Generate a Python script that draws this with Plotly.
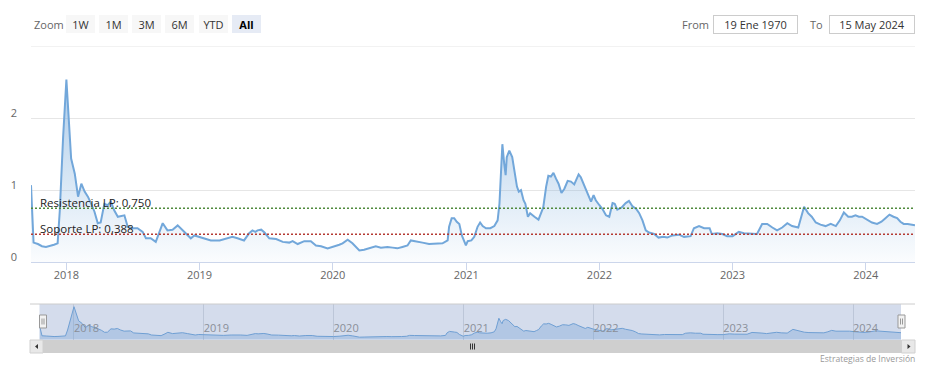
import plotly.graph_objects as go

# ---------------- data ----------------
dates = [
    "2017-09-26", "2017-10-03", "2017-10-15", "2017-10-26", "2017-11-06", "2017-11-17", "2017-11-28",
    "2017-12-08", "2017-12-14", "2017-12-23", "2018-01-01",
    "2018-01-14", "2018-01-24", "2018-02-02", "2018-02-11", "2018-02-20", "2018-03-01", "2018-03-10",
    "2018-03-19", "2018-03-28", "2018-04-05", "2018-04-15", "2018-04-24", "2018-05-03", "2018-05-12",
    "2018-05-22", "2018-05-30", "2018-06-09", "2018-06-18", "2018-07-02", "2018-07-15", "2018-07-29",
    "2018-08-07", "2018-08-20", "2018-09-03", "2018-09-14", "2018-09-22", "2018-10-05", "2018-10-19",
    "2018-11-02", "2018-11-16", "2018-11-29", "2018-12-08", "2018-12-18",
    "2019-01-01", "2019-01-14", "2019-02-01", "2019-02-25", "2019-03-19", "2019-04-01", "2019-04-15",
    "2019-05-03", "2019-05-17", "2019-05-26", "2019-06-03", "2019-06-09", "2019-06-19", "2019-06-28",
    "2019-07-11", "2019-07-30", "2019-08-17", "2019-09-04", "2019-09-13", "2019-09-27", "2019-10-15",
    "2019-11-02", "2019-11-16", "2019-11-30", "2019-12-18",
    "2020-01-01", "2020-01-19", "2020-01-28", "2020-02-11", "2020-02-24", "2020-03-14", "2020-03-27",
    "2020-04-10", "2020-04-28", "2020-05-12", "2020-05-30", "2020-06-13", "2020-06-26", "2020-07-10",
    "2020-07-24", "2020-08-02", "2020-08-16", "2020-09-03", "2020-09-21", "2020-10-10", "2020-10-28",
    "2020-11-11", "2020-11-15", "2020-11-22", "2020-11-29", "2020-12-06", "2020-12-13", "2020-12-20",
    "2020-12-31",
    "2021-01-05", "2021-01-15", "2021-01-23", "2021-02-01", "2021-02-08", "2021-02-15", "2021-02-24",
    "2021-03-08", "2021-03-19", "2021-03-28", "2021-04-02", "2021-04-07", "2021-04-10", "2021-04-15",
    "2021-04-19", "2021-04-22", "2021-04-29", "2021-05-07", "2021-05-13", "2021-05-20", "2021-05-25",
    "2021-05-31", "2021-06-07", "2021-06-12", "2021-06-19", "2021-06-25", "2021-07-07", "2021-07-18",
    "2021-07-25", "2021-07-31", "2021-08-08", "2021-08-14", "2021-08-21", "2021-08-28", "2021-09-04",
    "2021-09-11", "2021-09-19", "2021-09-27", "2021-10-06", "2021-10-15", "2021-10-24", "2021-11-05",
    "2021-11-11", "2021-11-21", "2021-11-30", "2021-12-09", "2021-12-16", "2021-12-22",
    "2022-01-01", "2022-01-09", "2022-01-19", "2022-01-28", "2022-02-06", "2022-02-12", "2022-02-19",
    "2022-03-03", "2022-03-14", "2022-03-23", "2022-04-01", "2022-04-12", "2022-04-20", "2022-04-29",
    "2022-05-08", "2022-05-17", "2022-05-31", "2022-06-12", "2022-06-25", "2022-07-06", "2022-07-20",
    "2022-08-07", "2022-08-21", "2022-09-08", "2022-09-17", "2022-10-01", "2022-10-15", "2022-10-30",
    "2022-11-05", "2022-11-20", "2022-12-04", "2022-12-17",
    "2023-01-01", "2023-01-18", "2023-02-01", "2023-02-19", "2023-03-09", "2023-03-23", "2023-04-06",
    "2023-04-20", "2023-05-03", "2023-05-17", "2023-05-31", "2023-06-13", "2023-06-30", "2023-07-16",
    "2023-07-27", "2023-08-06", "2023-08-17", "2023-08-30", "2023-09-13", "2023-09-27", "2023-10-11",
    "2023-10-22", "2023-11-02", "2023-11-14", "2023-11-24", "2023-12-04", "2023-12-13", "2023-12-22",
    "2024-01-04", "2024-01-18", "2024-02-01", "2024-02-13", "2024-02-24", "2024-03-06", "2024-03-17",
    "2024-03-27", "2024-04-05", "2024-04-14", "2024-04-25", "2024-05-09", "2024-05-15",
]
values = [
    1.07, 0.27, 0.25, 0.22, 0.21, 0.22, 0.24,
    0.26, 0.72, 1.74, 2.54,
    1.44, 1.23, 0.91, 1.09, 0.98, 0.91, 0.81,
    0.70, 0.54, 0.55, 0.81, 0.79, 0.84, 0.72,
    0.63, 0.64, 0.65, 0.49, 0.47, 0.47, 0.42,
    0.33, 0.33, 0.28, 0.42, 0.54, 0.44, 0.45,
    0.51, 0.44, 0.37, 0.33, 0.37,
    0.35, 0.33, 0.30, 0.30, 0.33, 0.35, 0.33,
    0.30, 0.40, 0.44, 0.42, 0.44, 0.45, 0.41,
    0.33, 0.32, 0.28, 0.27, 0.29, 0.25, 0.29,
    0.29, 0.23, 0.22, 0.19,
    0.21, 0.24, 0.26, 0.31, 0.26, 0.16, 0.17,
    0.19, 0.22, 0.20, 0.21, 0.20, 0.19, 0.21,
    0.23, 0.30, 0.29, 0.27, 0.25, 0.26, 0.26,
    0.30, 0.49, 0.61, 0.61, 0.56, 0.53, 0.37,
    0.23,
    0.29, 0.30, 0.35, 0.49, 0.55, 0.50, 0.47,
    0.47, 0.50, 0.58, 0.81, 1.32, 1.64, 1.37,
    1.21, 1.46, 1.55, 1.46, 1.28, 1.05, 0.98,
    1.00, 0.86, 0.81, 0.63, 0.68, 0.63, 0.59,
    0.68, 0.76, 1.05, 1.20, 1.19, 1.24, 1.16,
    1.09, 0.96, 1.02, 1.13, 1.12, 1.08, 1.22,
    1.18, 1.05, 0.95, 0.84, 0.93, 0.86,
    0.79, 0.74, 0.65, 0.63, 0.82, 0.81, 0.73,
    0.76, 0.82, 0.85, 0.78, 0.74, 0.68, 0.58,
    0.44, 0.41, 0.39, 0.34, 0.35, 0.34, 0.37,
    0.38, 0.35, 0.36, 0.47, 0.50, 0.47, 0.47,
    0.39, 0.40, 0.39, 0.36,
    0.36, 0.42, 0.40, 0.39, 0.39, 0.53, 0.53,
    0.48, 0.44, 0.48, 0.54, 0.50, 0.48, 0.77,
    0.68, 0.63, 0.55, 0.52, 0.50, 0.53, 0.50,
    0.58, 0.69, 0.63, 0.63, 0.65, 0.63, 0.63,
    0.59, 0.55, 0.53, 0.56, 0.61, 0.66, 0.63,
    0.61, 0.56, 0.53, 0.53, 0.52, 0.51,
]
resistance = 0.750
support = 0.388
resistance_label = "Resistencia LP: 0,750"
support_label = "Soporte LP: 0,388"
y_tick_values = [0, 1, 2, 3]
y_tick_labels = ["0", "1", "2", ""]
y_max = 3
zoom_buttons = ["1W", "1M", "3M", "6M", "YTD", "All"]
active_button = "All"
from_text = "19 Ene 1970"
to_text = "15 May 2024"
credits_text = "Estrategias de Inversión"

# ---------------- helpers (pixel -> paper) ----------------
W, H = 925, 372


def px(x):
    return x / W


def py(y):
    return 1 - y / H


FONT = "Open Sans, Verdana, sans-serif"
LINE = "#72a7da"

fig = go.Figure()

# main area series
fig.add_trace(go.Scatter(
    x=dates, y=values, mode="lines", name="",
    line=dict(color=LINE, width=2),
    fill="tozeroy",
    fillgradient=dict(type="vertical", start=0, stop=2.7,
                      colorscale=[[0, "rgba(114,167,218,0.03)"], [1, "rgba(114,167,218,0.62)"]]),
    xaxis="x", yaxis="y",
    hovertemplate="%{x|%d %b %Y}: %{y:.3f}<extra></extra>",
))
# navigator series
fig.add_trace(go.Scatter(
    x=dates, y=values, mode="lines", name="",
    line=dict(color="#6f9fd3", width=1),
    fill="tozeroy", fillcolor="rgba(114,160,215,0.35)",
    xaxis="x2", yaxis="y2", hoverinfo="skip",
))

tickfont = dict(family=FONT, size=11, color="#666666")

shapes = []
# top grid line (y = 3)
shapes.append(dict(type="line", xref="x domain", x0=0, x1=1, yref="y", y0=y_max, y1=y_max,
                   line=dict(color="#e6e6e6", width=1), layer="below"))
# support / resistance lines
shapes.append(dict(type="line", xref="x domain", x0=0, x1=1, yref="y", y0=resistance, y1=resistance,
                   line=dict(color="#4f8a3c", width=1.5, dash="2px,2px"), layer="above"))
shapes.append(dict(type="line", xref="x domain", x0=0, x1=1, yref="y", y0=support, y1=support,
                   line=dict(color="#b53a33", width=1.5, dash="2px,2px"), layer="above"))
# navigator mask
shapes.append(dict(type="rect", xref="x2 domain", x0=0, x1=1, yref="y2 domain", y0=0, y1=1,
                   fillcolor="#d4dcec", line=dict(width=0), layer="below"))
# navigator outline top
shapes.append(dict(type="line", xref="paper", yref="paper", x0=px(30), x1=px(915), y0=py(304), y1=py(304),
                   line=dict(color="#cccccc", width=1)))
# scrollbar
shapes.append(dict(type="rect", xref="paper", yref="paper", x0=px(30), x1=px(915), y0=py(353), y1=py(340),
                   fillcolor="#cfcfcf", line=dict(width=0)))
for bx0, bx1 in [(30, 43), (901.5, 915)]:
    shapes.append(dict(type="rect", xref="paper", yref="paper", x0=px(bx0), x1=px(bx1), y0=py(353), y1=py(340),
                       fillcolor="#e8e8e8", line=dict(color="#d0d0d0", width=1)))
shapes.append(dict(type="path", xref="paper", yref="paper",
                   path=f"M {px(35)} {py(346.5)} L {px(38)} {py(344)} L {px(38)} {py(349)} Z",
                   fillcolor="#333333", line=dict(width=0)))
shapes.append(dict(type="path", xref="paper", yref="paper",
                   path=f"M {px(910.5)} {py(346.5)} L {px(907.5)} {py(344)} L {px(907.5)} {py(349)} Z",
                   fillcolor="#333333", line=dict(width=0)))
for gx in (470.5, 472.5, 474.5):
    shapes.append(dict(type="line", xref="paper", yref="paper", x0=px(gx), x1=px(gx), y0=py(343.5), y1=py(349.5),
                       line=dict(color="#333333", width=1)))
# navigator handles
for hx0, hx1 in [(39.5, 46.5), (898, 905)]:
    shapes.append(dict(type="rect", xref="paper", yref="paper", x0=px(hx0), x1=px(hx1), y0=py(328), y1=py(315),
                       fillcolor="#f2f2f2", line=dict(color="#999999", width=1)))
    for gx in (hx0 + 2.5, hx0 + 4.5):
        shapes.append(dict(type="line", xref="paper", yref="paper", x0=px(gx), x1=px(gx), y0=py(318.5), y1=py(324.5),
                           line=dict(color="#999999", width=1)))

annotations = []
# support / resistance labels
for val, lab in [(resistance, resistance_label), (support, support_label)]:
    annotations.append(dict(text=lab, xref="paper", x=px(40), xanchor="left", yref="y", y=val, yanchor="bottom",
                            yshift=-2, showarrow=False, borderpad=0, borderwidth=0,
                            font=dict(family=FONT, size=11.5, color="#222222")))
# range selector look
annotations.append(dict(text="Zoom", xref="paper", yref="paper", x=px(32), xanchor="left", y=py(24.5),
                        yanchor="middle", showarrow=False, font=dict(family=FONT, size=11, color="#666666")))
for i, lab in enumerate(zoom_buttons):
    active = lab == active_button
    annotations.append(dict(
        text=f"<b>{lab}</b>" if active else lab, xref="paper", yref="paper",
        x=px(65.5 + 33.3 * i), xanchor="left", y=py(24), yanchor="middle",
        width=29, height=18, showarrow=False, borderpad=0, borderwidth=0,
        bgcolor="#e6ebf5" if active else "#f7f7f7",
        font=dict(family=FONT, size=11, color="#000000" if active else "#333333")))
annotations.append(dict(text="From", xref="paper", yref="paper", x=px(680), xanchor="left", y=py(24.5),
                        yanchor="middle", showarrow=False, font=dict(family=FONT, size=11, color="#666666")))
annotations.append(dict(text=from_text, xref="paper", yref="paper", x=px(713), xanchor="left", y=py(24.5),
                        yanchor="middle", width=83, height=17, showarrow=False, borderpad=0, borderwidth=1,
                        bordercolor="#cccccc", bgcolor="#ffffff",
                        font=dict(family=FONT, size=11, color="#333333")))
annotations.append(dict(text="To", xref="paper", yref="paper", x=px(808), xanchor="left", y=py(24.5),
                        yanchor="middle", showarrow=False, font=dict(family=FONT, size=11, color="#666666")))
annotations.append(dict(text=to_text, xref="paper", yref="paper", x=px(829), xanchor="left", y=py(24.5),
                        yanchor="middle", width=84, height=17, showarrow=False, borderpad=0, borderwidth=1,
                        bordercolor="#cccccc", bgcolor="#ffffff",
                        font=dict(family=FONT, size=11, color="#333333")))
annotations.append(dict(text=credits_text, xref="paper", yref="paper", x=px(915), xanchor="right", y=py(358.5),
                        yanchor="middle", showarrow=False, borderpad=0, borderwidth=0,
                        font=dict(family=FONT, size=8.6, color="#999999")))

fig.update_layout(
    width=W, height=H,
    margin=dict(l=0, r=0, t=0, b=0, autoexpand=False),
    paper_bgcolor="#ffffff", plot_bgcolor="rgba(0,0,0,0)",
    showlegend=False, hovermode="x",
    font=dict(family=FONT, size=11, color="#666666"),
    xaxis=dict(domain=[px(31), px(915)], anchor="y", type="date", showgrid=False, zeroline=False,
               showline=True, linecolor="#ccd6eb", linewidth=1,
               ticks="outside", ticklen=7, tickcolor="#ccd6eb", tickwidth=1, ticklabelstandoff=-4,
               tick0="2018-01-01", dtick="M12", tickformat="%Y", tickfont=tickfont),
    yaxis=dict(domain=[py(262), py(46.5)], anchor="x", range=[0, y_max], tickmode="array",
               tickvals=y_tick_values, ticktext=y_tick_labels, showgrid=True, gridcolor="#e6e6e6",
               gridwidth=1, zeroline=False, showline=False, ticks="",
               ticklabelshift=-5, ticklabelstandoff=13, tickfont=tickfont),
    xaxis2=dict(domain=[px(39.5), px(901)], anchor="y2", type="date", showgrid=True, gridcolor="#bcc6d8",
                zeroline=False, showline=False, ticks="", tick0="2018-01-01", dtick="M12", tickformat="%Y",
                ticklabelposition="inside right", tickfont=dict(family=FONT, size=11, color="#8a8f99"),
                fixedrange=True),
    yaxis2=dict(domain=[py(340), py(304)], anchor="x2", range=[-0.06, 2.75], showgrid=False,
                zeroline=False, showticklabels=False, ticks="", fixedrange=True),
    shapes=shapes, annotations=annotations,
)

fig.write_html(
    "out.html",
    config={"displayModeBar": False},
    post_script="document.body.style.margin='0px';document.body.style.padding='0px';",
)
